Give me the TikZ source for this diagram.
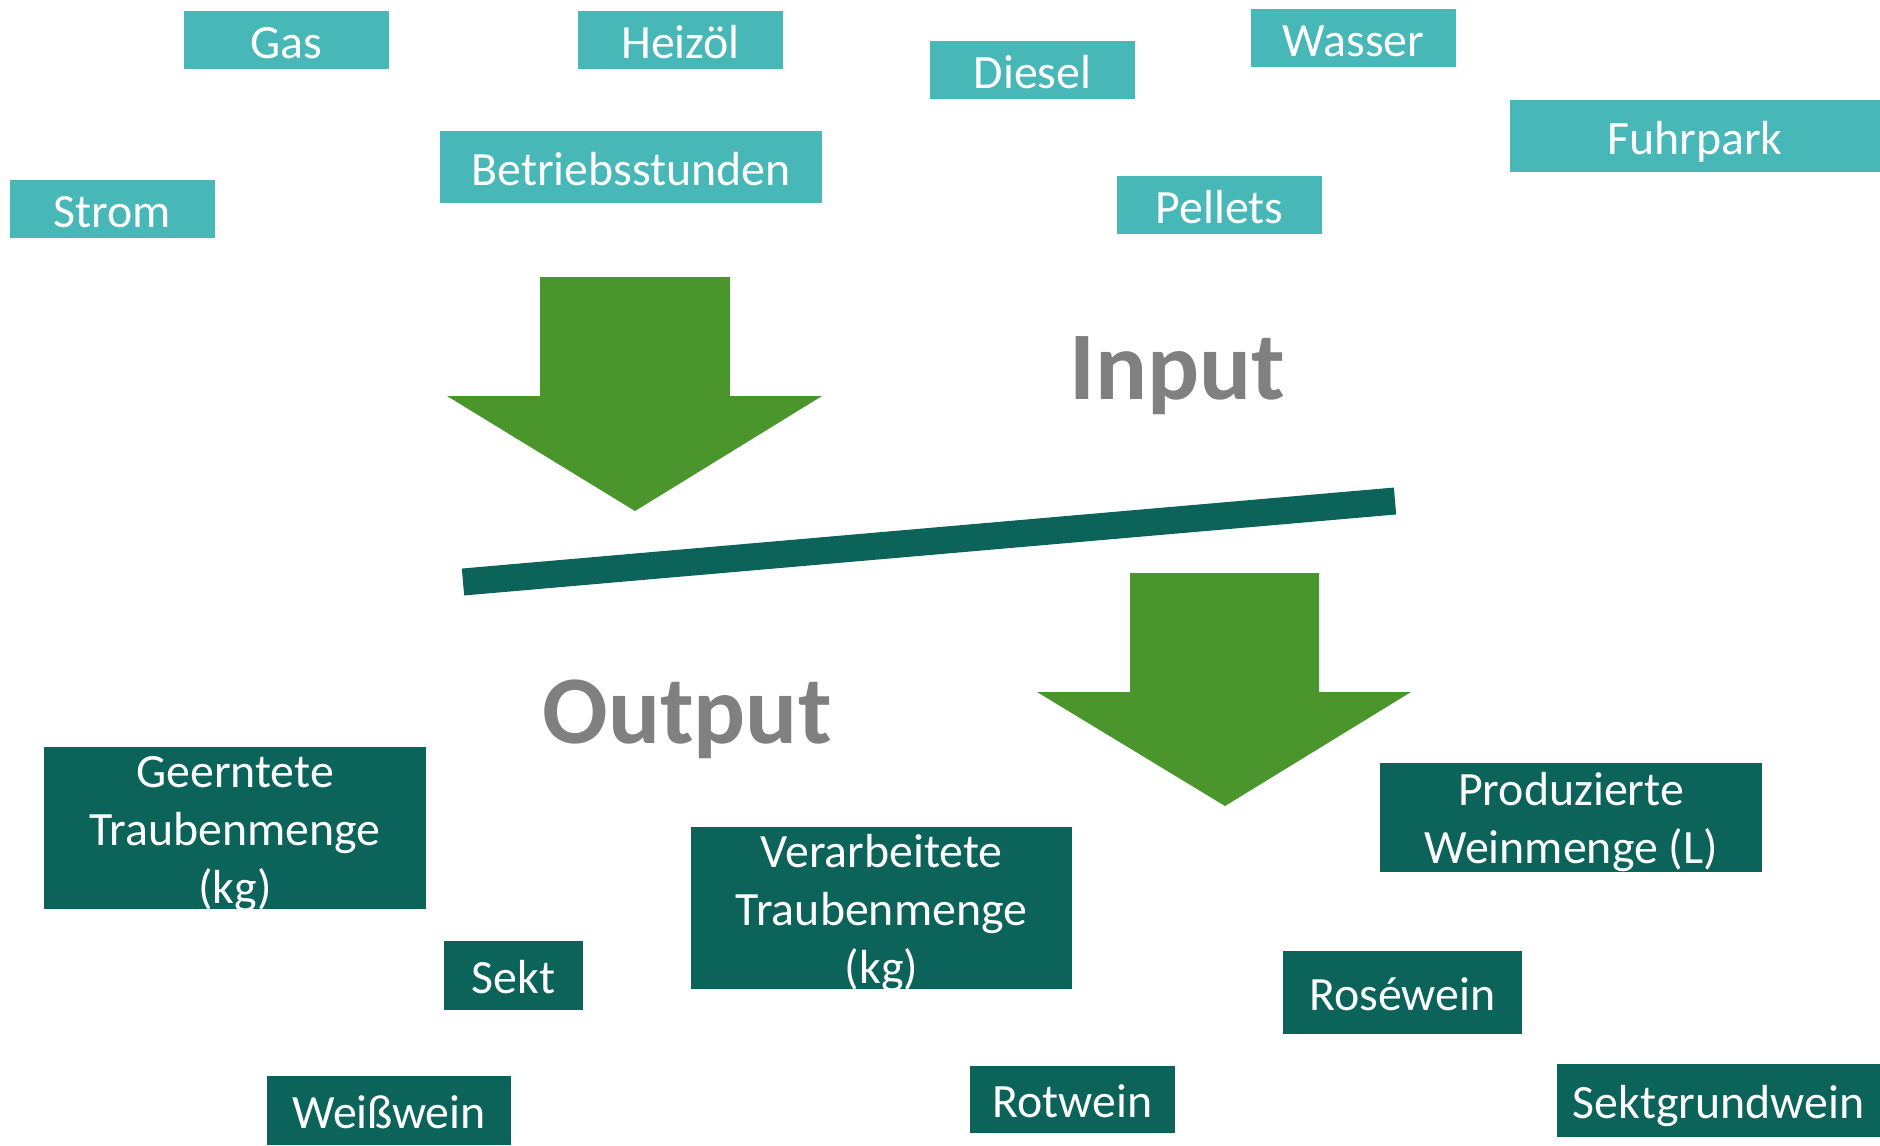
\documentclass[tikz,border=0pt]{standalone}
\usepackage{fontspec}
\setmainfont{Carlito}
\definecolor{inputteal}{HTML}{47B7B8}
\definecolor{outputteal}{HTML}{0B6359}
\definecolor{arrowgreen}{HTML}{4A962D}
\definecolor{labelgray}{HTML}{808080}
\tikzset{
  inbox/.style={fill=inputteal, text=white, inner sep=0pt, text height=0.36cm, text depth=0pt,
    font=\fontsize{13.6}{16.5}\selectfont},
  outbox/.style={fill=outputteal, text=white, inner sep=0pt, align=center,
    font=\fontsize{13.6}{16.5}\selectfont},
  threelines/.style={outbox, text height=1.56cm, text depth=0.06cm},
  twolines/.style={outbox, text height=1.00cm, text depth=0.08cm},
  singleout/.style={outbox, text height=0.36cm, text depth=0pt},
  biglabel/.style={text=labelgray, font=\fontsize{27.6}{30}\selectfont\bfseries, anchor=base},
}
\begin{document}
\begin{tikzpicture}[x=0.01cm,y=-0.01cm]
	\useasboundingbox (0,0) rectangle (1880,1145);
	% input side
	\node[inbox, minimum width=2.05cm, minimum height=0.58cm] (gas) at (286.5,40) {Gas};
	\node[inbox, minimum width=2.05cm, minimum height=0.58cm] (heizoel) at (680.5,40) {Heizöl};
	\node[inbox, minimum width=2.05cm, minimum height=0.58cm] (diesel) at (1032.5,70) {Diesel};
	\node[inbox, minimum width=2.05cm, minimum height=0.58cm] (wasser) at (1353.5,38) {Wasser};
	\node[inbox, minimum width=3.70cm, minimum height=0.72cm] (fuhrpark) at (1695,136) {Fuhrpark};
	\node[inbox, minimum width=3.82cm, minimum height=0.72cm] (betrieb) at (631,167) {Betriebsstunden};
	\node[inbox, minimum width=2.05cm, minimum height=0.58cm] (strom) at (112.5,209) {Strom};
	\node[inbox, minimum width=2.05cm, minimum height=0.58cm] (pellets) at (1219.5,205) {Pellets};
	\fill[arrowgreen] (540,277) -- (730,277) -- (730,396) -- (822,396) -- (635,511) -- (447,396) -- (540,396) -- cycle;
	\node[biglabel] (input) at (1177,399) {Input};
	% separator
	\draw[outputteal, line width=0.27cm] (463,582) -- (1395,501);
	% output side
	\fill[arrowgreen] (1130,573) -- (1319,573) -- (1319,692) -- (1411,692) -- (1225,806) -- (1037,692) -- (1130,692) -- cycle;
	\node[biglabel] (output) at (687,743) {Output};
	\node[threelines, minimum width=3.82cm, minimum height=1.62cm] (geerntet) at (235,828) {Geerntete\\Traubenmenge\\(kg)};
	\node[threelines, minimum width=3.81cm, minimum height=1.62cm] (verarbeitet) at (881.5,908) {Verarbeitete\\Traubenmenge\\(kg)};
	\node[twolines, minimum width=3.82cm, minimum height=1.09cm] (produziert) at (1571,817.5) {Produzierte\\Weinmenge (L)};
	\node[singleout, minimum width=1.39cm, minimum height=0.69cm] (sekt) at (513.5,975.5) {Sekt};
	\node[singleout, minimum width=2.39cm, minimum height=0.83cm] (rose) at (1402.5,992.5) {Roséwein};
	\node[singleout, minimum width=2.44cm, minimum height=0.69cm] (weiss) at (389,1110.5) {Weißwein};
	\node[singleout, minimum width=2.05cm, minimum height=0.67cm] (rot) at (1072.5,1099.5) {Rotwein};
	\node[singleout, minimum width=3.23cm, minimum height=0.73cm] (sektgrund) at (1718.5,1100.5) {Sektgrundwein};
\end{tikzpicture}
\end{document}
